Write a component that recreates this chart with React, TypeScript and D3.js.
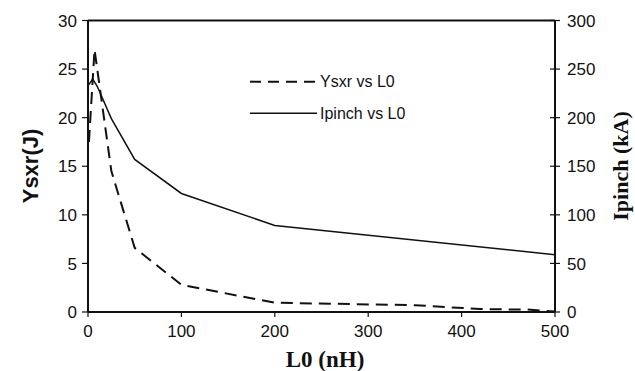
import React from 'react';
import { scaleLinear, line } from 'd3';

// L0 (nH) vs Ysxr (J), dashed series
const ysxrL0 = [1, 7, 25, 50, 100, 200, 350, 420, 470, 500];
const ysxrVals = [17.5, 27, 14.5, 6.6, 2.8, 0.95, 0.7, 0.3, 0.25, 0.05];

// L0 (nH) vs Ipinch (kA), solid series
const ipinchL0 = [1, 5, 10, 25, 50, 100, 200, 500];
const ipinchVals = [234, 240, 232, 199, 157, 122, 89, 59];

const xTicks = [0, 100, 200, 300, 400, 500];
const yLeftTicks = [0, 5, 10, 15, 20, 25, 30];
const yRightTicks = [0, 50, 100, 150, 200, 250, 300];

const W = 635;
const H = 371;
const M = { left: 88, right: 555, top: 20.5, bottom: 312 };
const SANS = 'Liberation Sans, Arial, sans-serif';
const SERIF = 'Liberation Serif, Times New Roman, serif';

export default function App() {
  const x = scaleLinear().domain([0, 500]).range([M.left, M.right]);
  const yL = scaleLinear().domain([0, 30]).range([M.bottom, M.top]);
  const yR = scaleLinear().domain([0, 300]).range([M.bottom, M.top]);

  const ysxrLine = line<number>()
    .x((_, i) => x(ysxrL0[i]))
    .y((d) => yL(d))(ysxrVals);
  const ipinchLine = line<number>()
    .x((_, i) => x(ipinchL0[i]))
    .y((d) => yR(d))(ipinchVals);

  return (
    <svg
      width={W}
      height={H}
      style={{ position: 'absolute', left: 0, top: 0, background: '#fff' }}
    >
      {/* data */}
      <path d={ysxrLine || ''} fill="none" stroke="#111" strokeWidth={2} strokeDasharray="12,7" />
      <path d={ipinchLine || ''} fill="none" stroke="#111" strokeWidth={1.5} />

      {/* frame */}
      <line x1={M.left} x2={M.right} y1={M.top} y2={M.top} stroke="#111" strokeWidth={2} />
      <line x1={M.left} x2={M.right} y1={M.bottom} y2={M.bottom} stroke="#111" strokeWidth={2} />
      <line x1={M.left} x2={M.left} y1={M.top} y2={M.bottom} stroke="#111" strokeWidth={2} />
      <line x1={M.right} x2={M.right} y1={M.top} y2={M.bottom} stroke="#111" strokeWidth={2} />

      {/* x axis ticks */}
      {xTicks.map((t) => (
        <g key={'x' + t}>
          <line x1={x(t)} x2={x(t)} y1={M.bottom} y2={M.bottom + 5} stroke="#111" strokeWidth={1.2} />
          <text x={x(t)} y={337} textAnchor="middle" fontFamily={SANS} fontSize={17} fill="#111">
            {t}
          </text>
        </g>
      ))}

      {/* left axis */}
      {yLeftTicks.map((t) => (
        <g key={'l' + t}>
          <line x1={M.left - 6} x2={M.left} y1={yL(t)} y2={yL(t)} stroke="#111" strokeWidth={1.2} />
          <text x={77} y={yL(t)} dy="0.36em" textAnchor="end" fontFamily={SANS} fontSize={17} fill="#111">
            {t}
          </text>
        </g>
      ))}

      {/* right axis */}
      {yRightTicks.map((t) => (
        <g key={'r' + t}>
          <line x1={M.right - 5} x2={M.right + 5} y1={yR(t)} y2={yR(t)} stroke="#111" strokeWidth={1.2} />
          <text x={567} y={yR(t)} dy="0.36em" textAnchor="start" fontFamily={SANS} fontSize={17} fill="#111">
            {t}
          </text>
        </g>
      ))}

      {/* axis titles */}
      <text
        transform="translate(30,166) rotate(-90)"
        textAnchor="middle"
        dy="0.36em"
        fontFamily={SANS}
        fontWeight="bold"
        fontSize={22}
        fill="#111"
      >
        Ysxr(J)
      </text>
      <text
        transform="translate(628,166) rotate(-90)"
        textAnchor="middle"
        fontFamily={SERIF}
        fontWeight="bold"
        fontSize={22}
        fill="#111"
      >
        Ipinch (kA)
      </text>
      <text x={325} y={367} textAnchor="middle" fontFamily={SERIF} fontWeight="bold" fontSize={23} fill="#111">
        L0 (nH)
      </text>

      {/* legend */}
      <line x1={250} x2={317} y1={81.7} y2={81.7} stroke="#111" strokeWidth={2} strokeDasharray="11,7" />
      <text x={320} y={81.7} dy="0.36em" fontFamily={SANS} fontSize={16} fill="#111">
        Ysxr vs L0
      </text>
      <line x1={250} x2={317} y1={113.3} y2={113.3} stroke="#111" strokeWidth={1.5} />
      <text x={320} y={113.3} dy="0.36em" fontFamily={SANS} fontSize={16} fill="#111">
        Ipinch vs L0
      </text>
    </svg>
  );
}
